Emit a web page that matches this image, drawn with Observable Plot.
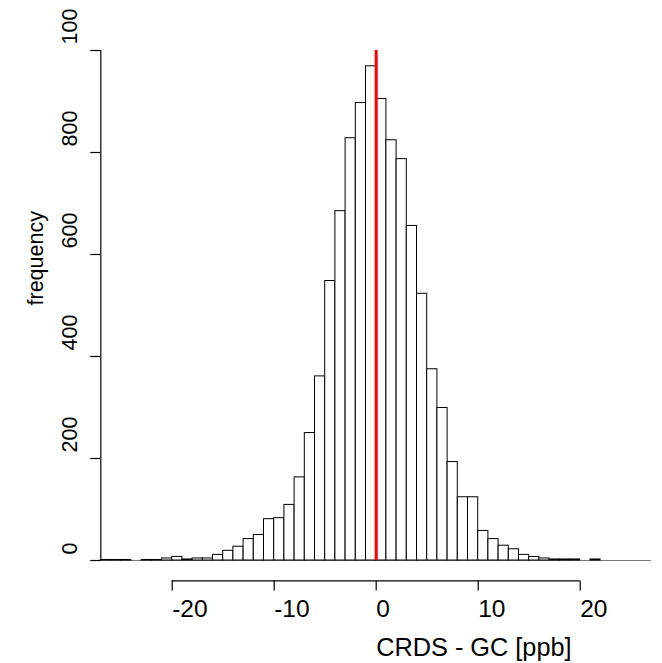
<!DOCTYPE html>
<html>
<head>
<meta charset="utf-8">
<script src="https://cdn.jsdelivr.net/npm/d3@7"></script>
<script src="https://cdn.jsdelivr.net/npm/@observablehq/plot@0.6"></script>
<style>
  html, body { margin: 0; padding: 0; background: #fff; }
  #chart svg { display: block; }
</style>
</head>
<body>
<div id="chart"></div>
<script>
// Histogram bins: left edges (width 1 ppb) and counts
const binStart = [-27,-26,-25,-24,-23,-22,-21,-20,-19,-18,-17,-16,-15,-14,-13,-12,-11,-10,-9,-8,-7,-6,-5,-4,-3,-2,-1,0,1,2,3,4,5,6,7,8,9,10,11,12,13,14,15,16,17,18,19,20,21];
const counts   = [1,1,1,0,1,1,4,7,2,4,4,11,19,27,42,50,81,83,109,163,250,361,548,685,828,897,969,905,824,787,656,523,375,299,193,124,124,58,42,29,22,11,7,4,2,2,2,0,2];
const binWidth = 1;

const xTicks = [-20, -10, 0, 10, 20];
const xTickLabels = ["-20", "-10", "0", "10", "20"];
const yTicks = [0, 200, 400, 600, 800, 1000];
const yTickLabels = ["0", "200", "400", "600", "800", "1000"];
const refLine = [0];

const xlimData = [-25, 25];
const ylimData = [0, 1000];
const ext = 0.04;
const expand = ([a, b]) => [a - (b - a) * ext, b + (b - a) * ext];
const xLim = expand(xlimData);
const yLim = expand(ylimData);

const xTitle = "CRDS - GC [ppb]";
const yTitle = "frequency";

const bins = binStart.map((x0, i) => ({x1: x0, x2: x0 + binWidth, count: counts[i]}));

const font = "'Liberation Sans', Arial, Helvetica, sans-serif";

const chart = Plot.plot({
  width: 662,
  height: 663,
  marginLeft: 100.3,
  marginRight: 10.9,
  marginTop: 29.6,
  marginBottom: 82.6,
  style: {fontFamily: font, background: "#fff", overflow: "visible"},
  x: {domain: xLim, axis: null},
  y: {domain: yLim, axis: null},
  marks: [
    // baseline
    Plot.ruleY([0], {stroke: "#777", strokeWidth: 1, insetLeft: -10}),
    // histogram bars
    Plot.rect(bins, {x1: "x1", x2: "x2", y1: 0, y2: "count", fill: "white", stroke: "black", strokeWidth: 1}),
    // red reference line
    Plot.ruleX(refLine, {y1: ylimData[0], y2: ylimData[1], stroke: "red", strokeWidth: 3}),
    // y axis
    Plot.ruleX([xLim[0]], {y1: yTicks[0], y2: yTicks[yTicks.length - 1], stroke: "black", strokeWidth: 1.2}),
    Plot.ruleY(yTicks, {x1: xLim[0], x2: xLim[0], insetLeft: -10, stroke: "black", strokeWidth: 1.2}),
    Plot.text(yTicks, {x: xLim[0], y: d => d, text: (d, i) => yTickLabels[i], rotate: -90, textAnchor: "start",
      dx: -31, dy: -6, fontSize: 21.5, fill: "black", ariaDescription: "y tick labels"}),
    // x axis
    Plot.ruleY([yLim[0]], {x1: xTicks[0], x2: xTicks[xTicks.length - 1], stroke: "black", strokeWidth: 1.2}),
    Plot.ruleX(xTicks, {y1: yLim[0], y2: yLim[0], insetBottom: -10, stroke: "black", strokeWidth: 1.2}),
    Plot.text(xTicks, {x: d => d, frameAnchor: "bottom", text: (d, i) => xTickLabels[i], textAnchor: "start",
      dy: 36, fontSize: 24.5, fill: "black"}),
    // titles
    Plot.text([xTitle], {frameAnchor: "bottom", text: d => d, textAnchor: "start", dy: 75, fontSize: 25.3, fill: "black"}),
    Plot.text([yTitle], {frameAnchor: "left", text: d => d, rotate: -90, textAnchor: "start", dx: -65, fontSize: 21.5, fill: "black"})
  ]
});

// The reference figure clips its outer text a few pixels below the top edge
const ns = "http://www.w3.org/2000/svg";
const defs = document.createElementNS(ns, "defs");
const clip = document.createElementNS(ns, "clipPath");
clip.setAttribute("id", "fig-clip");
clip.setAttribute("clipPathUnits", "userSpaceOnUse");
const clipRect = document.createElementNS(ns, "rect");
clipRect.setAttribute("x", 0);
clipRect.setAttribute("y", 8.5);
clipRect.setAttribute("width", 662);
clipRect.setAttribute("height", 654.5);
clip.appendChild(clipRect);
defs.appendChild(clip);
chart.insertBefore(defs, chart.firstChild);
const labels = chart.querySelector("g[aria-description='y tick labels']");
if (labels) {
  const wrap = document.createElementNS(ns, "g");
  wrap.setAttribute("clip-path", "url(#fig-clip)");
  labels.parentNode.insertBefore(wrap, labels);
  wrap.appendChild(labels);
}

document.getElementById("chart").appendChild(chart);
</script>
</body>
</html>
